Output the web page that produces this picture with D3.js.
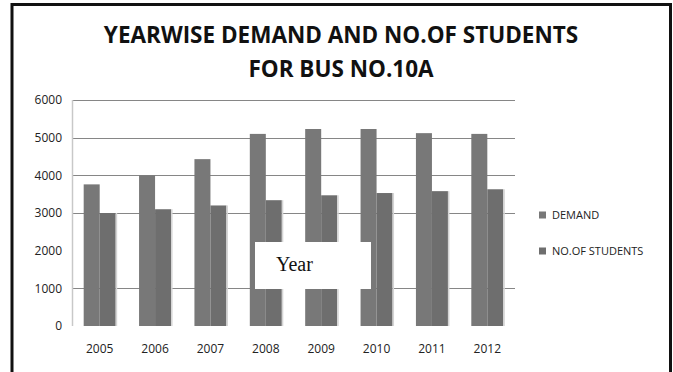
<!DOCTYPE html>
<html>
<head>
<meta charset="utf-8">
<script src="https://cdn.jsdelivr.net/npm/d3@7"></script>
<style>
  body { margin: 0; background: #fff; }
  svg { display: block; }
</style>
</head>
<body>
<div id="chart"></div>
<script>
const years = ["2005", "2006", "2007", "2008", "2009", "2010", "2011", "2012"];
const demand = [3760, 4000, 4430, 5100, 5230, 5230, 5120, 5100];
const students = [3000, 3100, 3200, 3340, 3470, 3530, 3580, 3630];
const yTicks = [0, 1000, 2000, 3000, 4000, 5000, 6000];
const gridTicks = [1000, 3000, 4000, 5000, 6000];
const seriesNames = ["DEMAND", "NO.OF STUDENTS"];
const titleLines = ["YEARWISE DEMAND AND NO.OF STUDENTS", "FOR BUS NO.10A"];

const width = 673, height = 372;
const plot = { left: 72, right: 515, top: 100, bottom: 326 };
const colors = ["#787878", "#6e6e6e"];

const svg = d3.select("#chart")
    .append("svg")
    .attr("width", width)
    .attr("height", height);

// outer frame (open at the bottom)
svg.append("path")
    .attr("d", `M12,${height} V4.5 H670.5 V${height}`)
    .attr("fill", "none")
    .attr("stroke", "#111")
    .attr("stroke-width", 3);

// title
svg.selectAll(".title")
    .data(titleLines)
    .join("text")
    .attr("class", "title")
    .attr("x", 341)
    .attr("y", (d, i) => 43 + i * 34)
    .attr("text-anchor", "middle")
    .attr("font-family", "'Open Sans', sans-serif")
    .attr("font-weight", "bold")
    .attr("font-size", "22.5px")
    .attr("fill", "#111")
    .text(d => d);

const x = d3.scaleBand()
    .domain(years)
    .range([plot.left, plot.right]);

const y = d3.scaleLinear()
    .domain([0, 6000])
    .range([plot.bottom, plot.top]);

const barW = 16;

// gridlines
svg.selectAll(".grid")
    .data(gridTicks)
    .join("line")
    .attr("class", "grid")
    .attr("x1", plot.left)
    .attr("x2", plot.right)
    .attr("y1", d => Math.round(y(d)) + 0.5)
    .attr("y2", d => Math.round(y(d)) + 0.5)
    .attr("stroke", "#868686")
    .attr("stroke-width", 1);

// y axis line
svg.append("line")
    .attr("x1", plot.left + 0.5)
    .attr("x2", plot.left + 0.5)
    .attr("y1", plot.top)
    .attr("y2", plot.bottom)
    .attr("stroke", "#c8c8c8")
    .attr("stroke-width", 1.5);

// y tick labels
svg.selectAll(".ylab")
    .data(yTicks)
    .join("text")
    .attr("class", "ylab")
    .attr("x", 62)
    .attr("y", d => y(d))
    .attr("dy", "0.35em")
    .attr("text-anchor", "end")
    .attr("font-family", "'Open Sans', sans-serif")
    .attr("font-size", "12px")
    .attr("fill", "#222")
    .text(d => d);

// bars
const groups = svg.selectAll(".year")
    .data(years)
    .join("g")
    .attr("class", "year")
    .attr("transform", d => `translate(${x(d) + x.bandwidth() / 2},0)`);

[demand, students].forEach((values, s) => {
    groups.append("rect")
        .attr("x", s === 0 ? -barW : 0)
        .attr("y", (d, i) => y(values[i]))
        .attr("width", barW)
        .attr("height", (d, i) => y(0) - y(values[i]))
        .attr("fill", colors[s]);
});

// light shading on the right of each pair
groups.append("rect")
    .attr("x", barW)
    .attr("y", (d, i) => y(students[i]))
    .attr("width", 1.5)
    .attr("height", (d, i) => y(0) - y(students[i]))
    .attr("fill", "#d4d4d4");

// x tick labels
svg.selectAll(".xlab")
    .data(years)
    .join("text")
    .attr("class", "xlab")
    .attr("x", d => x(d) + x.bandwidth() / 2)
    .attr("y", 349)
    .attr("dy", "0.35em")
    .attr("text-anchor", "middle")
    .attr("font-family", "'Open Sans', sans-serif")
    .attr("font-size", "12px")
    .attr("fill", "#222")
    .text(d => d);

// legend
const legend = svg.selectAll(".legend")
    .data(seriesNames)
    .join("g")
    .attr("class", "legend")
    .attr("transform", (d, i) => `translate(539,${215 + i * 36})`);

legend.append("rect")
    .attr("x", 0)
    .attr("y", -3.5)
    .attr("width", 7)
    .attr("height", 7)
    .attr("fill", (d, i) => colors[i]);

legend.append("text")
    .attr("x", 13)
    .attr("y", 0)
    .attr("dy", "0.35em")
    .attr("font-family", "'Open Sans', sans-serif")
    .attr("font-size", "11px")
    .attr("fill", "#222")
    .text(d => d);

// pasted "Year" box over the bars
svg.append("rect")
    .attr("x", 255)
    .attr("y", 242)
    .attr("width", 116)
    .attr("height", 47)
    .attr("fill", "#fff");

svg.append("text")
    .attr("x", 276)
    .attr("y", 271)
    .attr("font-family", "'Liberation Serif', 'Times New Roman', serif")
    .attr("font-size", "20px")
    .attr("fill", "#111")
    .text("Year");
</script>
</body>
</html>
